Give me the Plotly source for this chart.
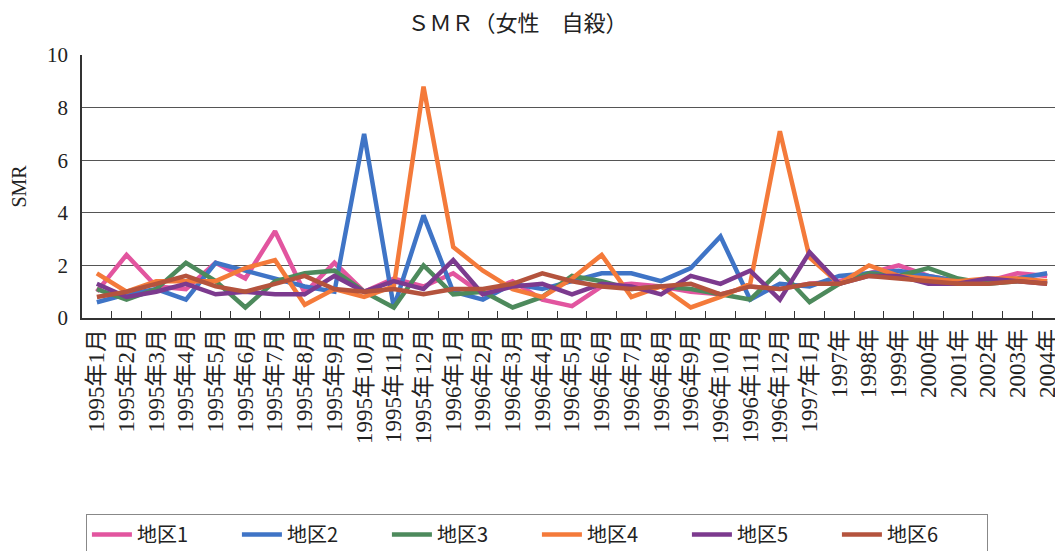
import plotly.graph_objects as go

categories = ["1995年1月", "1995年2月", "1995年3月", "1995年4月", "1995年5月", "1995年6月",
              "1995年7月", "1995年8月", "1995年9月", "1995年10月", "1995年11月", "1995年12月",
              "1996年1月", "1996年2月", "1996年3月", "1996年4月", "1996年5月", "1996年6月",
              "1996年7月", "1996年8月", "1996年9月", "1996年10月", "1996年11月", "1996年12月",
              "1997年1月", "1997年", "1998年", "1999年", "2000年", "2001年", "2002年", "2003年", "2004年"]

area1 = [1.0, 2.4, 1.2, 1.1, 2.1, 1.5, 3.3, 0.95, 2.1, 1.0, 1.5, 1.2, 1.7, 0.9, 1.4, 0.7, 0.45,
         1.2, 1.3, 1.2, 1.0, 0.9, 1.2, 1.1, 1.3, 1.4, 1.7, 2.0, 1.6, 1.4, 1.4, 1.7, 1.6]
area2 = [0.6, 0.9, 1.1, 0.7, 2.1, 1.8, 1.5, 1.2, 1.0, 7.0, 0.4, 3.9, 1.0, 0.7, 1.3, 1.1, 1.4,
         1.7, 1.7, 1.4, 1.9, 3.1, 0.7, 1.3, 1.2, 1.6, 1.7, 1.8, 1.6, 1.4, 1.4, 1.5, 1.7]
area3 = [1.1, 0.7, 1.1, 2.1, 1.4, 0.4, 1.4, 1.7, 1.8, 1.0, 0.4, 2.0, 0.9, 1.0, 0.4, 0.8, 1.6,
         1.4, 1.1, 1.2, 1.1, 0.9, 0.7, 1.8, 0.6, 1.3, 1.7, 1.6, 1.9, 1.5, 1.3, 1.4, 1.4]
area4 = [1.7, 1.0, 1.4, 1.4, 1.4, 1.9, 2.2, 0.5, 1.1, 0.8, 1.2, 8.8, 2.7, 1.8, 1.1, 0.8, 1.5,
         2.4, 0.8, 1.2, 0.4, 0.8, 1.3, 7.1, 2.3, 1.3, 2.0, 1.6, 1.5, 1.4, 1.5, 1.5, 1.4]
area5 = [1.3, 0.8, 1.0, 1.3, 0.9, 1.0, 0.9, 0.9, 1.6, 1.0, 1.4, 1.1, 2.2, 0.9, 1.2, 1.3, 0.9,
         1.3, 1.2, 0.9, 1.6, 1.3, 1.8, 0.7, 2.5, 1.3, 1.6, 1.6, 1.3, 1.3, 1.5, 1.4, 1.3]
area6 = [0.8, 1.0, 1.3, 1.6, 1.2, 1.0, 1.3, 1.6, 1.1, 1.0, 1.1, 0.9, 1.1, 1.1, 1.3, 1.7, 1.4,
         1.2, 1.1, 1.2, 1.3, 0.9, 1.2, 1.1, 1.3, 1.3, 1.6, 1.5, 1.4, 1.3, 1.3, 1.4, 1.3]

series_names = ["地区1", "地区2", "地区3", "地区4", "地区5", "地区6"]
series_values = [area1, area2, area3, area4, area5, area6]
colors = ["#e2559f", "#3f74c6", "#4d8a5c", "#f47a3a", "#7c3a8e", "#b4533d"]

FONT = "Liberation Serif, Noto Sans CJK JP, serif"

fig = go.Figure()
for name, vals, col in zip(series_names, series_values, colors):
    fig.add_trace(go.Scatter(x=categories, y=vals, mode="lines", name=name,
                             line=dict(color=col, width=4.5)))

# page body has an 8px margin, so the figure is sized to fit inside the window
fig.update_layout(
    width=1055, height=543,
    paper_bgcolor="white", plot_bgcolor="white",
    margin=dict(l=74, r=1, t=47, b=233, autoexpand=False),
    font=dict(family=FONT, color="#222222", size=18),
    title=dict(text="ＳＭＲ（女性　自殺）", x=0.483, xanchor="center", y=0.972, yanchor="middle",
               pad=dict(t=0, b=0),
               font=dict(size=22, family="Noto Sans CJK JP, serif", color="#222222")),
    showlegend=True,
    legend=dict(orientation="h", x=0.004, xanchor="left", y=-0.745, yanchor="top",
                bordercolor="#888888", borderwidth=1, bgcolor="white",
                itemwidth=40, entrywidth=95, entrywidthmode="pixels",
                font=dict(size=20, family="Noto Sans CJK JP, serif"),
                traceorder="normal"),
)
fig.update_xaxes(type="category", range=[-0.5, len(categories) - 0.5], automargin=False,
                 showline=True, linecolor="#333333", linewidth=1.5,
                 ticks="inside", tickson="boundaries", ticklen=7, tickcolor="#333333",
                 tickangle=-90, tickfont=dict(size=23, family=FONT),
                 showgrid=False)
fig.update_yaxes(range=[0, 10], dtick=2, automargin=False,
                 showline=True, linecolor="#333333", linewidth=1.5,
                 showgrid=True, gridcolor="#555555", gridwidth=1,
                 ticks="", ticklabelstandoff=8, tickfont=dict(size=21, family=FONT),
                 title=dict(text="SMR", font=dict(size=20, family=FONT), standoff=30),
                 zeroline=False)

fig.write_html("out.html")
